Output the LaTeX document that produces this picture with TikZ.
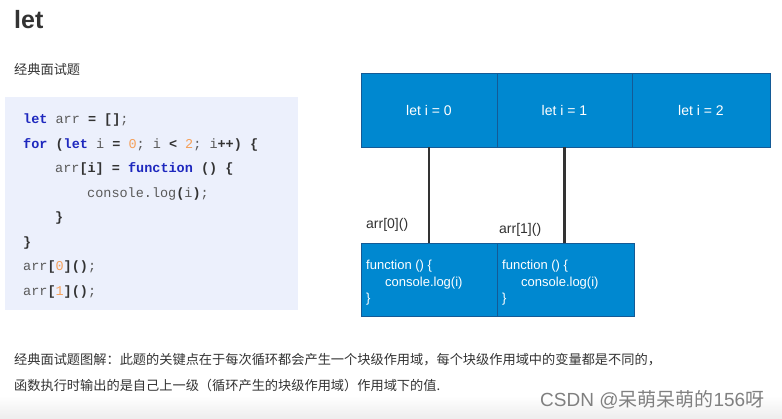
\documentclass[tikz,border=0pt]{standalone}
\usepackage{fontspec}
\setmainfont{Liberation Sans}
\newfontfamily\cjk{Noto Sans CJK SC}
\newfontfamily\codefont{Liberation Mono}
\definecolor{boxblue}{RGB}{0,136,208}
\definecolor{boxedge}{RGB}{20,90,150}
\definecolor{codebg}{RGB}{236,240,252}
\definecolor{kwblue}{RGB}{30,40,190}
\definecolor{numorange}{RGB}{245,160,90}
\definecolor{codetext}{RGB}{90,90,90}
\definecolor{darktext}{RGB}{51,51,51}
\newcommand{\kw}[1]{\textcolor{kwblue}{\bfseries #1}}
\newcommand{\nm}[1]{\textcolor{numorange}{#1}}
\newcommand{\op}[1]{\textcolor{darktext}{\bfseries #1}}
\tikzset{
  codeline/.style={anchor=base west, inner sep=0pt, font=\codefont\fontsize{13.5}{13.5}\selectfont, text=codetext},
  scopebox/.style={draw=boxedge, line width=0.5pt, fill=boxblue, text=white, minimum height=74pt, inner sep=0pt, font=\fontsize{14}{14}\selectfont},
  fnbox/.style={draw=boxedge, line width=0.5pt, fill=boxblue, minimum height=73pt, inner sep=0pt},
  fntext/.style={anchor=base west, inner sep=0pt, align=left, text=white, font=\fontsize{13}{16.5}\selectfont},
  label/.style={anchor=base west, inner sep=0pt, text=darktext, font=\fontsize{14}{14}\selectfont},
  link/.style={draw=darktext, line width=2.3pt},
  cjktext/.style={anchor=base west, inner sep=0pt, text=darktext, font=\cjk\fontsize{13.2}{26}\selectfont}
}
\begin{document}
\begin{tikzpicture}[x=1pt,y=-1pt]
\useasboundingbox (0,0) rectangle (782,419);
\fill[white] (0,0) rectangle (782,419);
\shade[top color=white, bottom color=black!7] (0,396) rectangle (782,419);
% title
\node[anchor=base west, inner sep=0pt, text=darktext, font=\bfseries\fontsize{25}{25}\selectfont] (title) at (14,29) {let};
\node[cjktext] (sub) at (14,75) {经典面试题};
% code box
\fill[codebg] (5,97) rectangle (298,310);
\node[codeline] (c1) at (23,124) {\kw{let} arr \op{=} \op{[]};};
\node[codeline] (c2) at (23,148.5) {\kw{for} \op{(}\kw{let} i \op{=} \nm{0}; i \op{<} \nm{2}; i\op{++}\op{)} \op{\{}};
\node[codeline] (c3) at (55,173) {arr\op{[i]} \op{=} \kw{function} \op{()} \op{\{}};
\node[codeline] (c4) at (87,197.5) {console.log\op{(}i\op{)};};
\node[codeline] (c5) at (55,222) {\op{\}}};
\node[codeline] (c6) at (23,246.5) {\op{\}}};
\node[codeline] (c7) at (23,271) {arr\op{[}\nm{0}\op{]()};};
\node[codeline] (c8) at (23,295.5) {arr\op{[}\nm{1}\op{]()};};
% top scope boxes
\node[scopebox, minimum width=136pt] (t0) at (429,110) {let i = 0};
\node[scopebox, minimum width=135pt] (t1) at (564.5,110) {let i = 1};
\node[scopebox, minimum width=138pt] (t2) at (701,110) {let i = 2};
% bottom function boxes
\node[fnbox, minimum width=136pt] (b0) at (429,279.5) {};
\node[fnbox, minimum width=137pt] (b1) at (565.5,279.5) {};
\node[fntext] (f0) at (366,303) {function () \{\\\hspace*{19pt}console.log(i)\\\}};
\node[fntext] (f1) at (502,303) {function () \{\\\hspace*{19pt}console.log(i)\\\}};
% connectors
\draw[link] (t0.south) -- (t0.south |- b0.north);
\draw[link] (t1.south) -- (t1.south |- b1.north);
% labels
\node[label] (l0) at (366,229) {arr[0]()};
\node[label] (l1) at (499,234) {arr[1]()};
% explanation
\node[cjktext] (e1) at (14,365) {经典面试题图解：此题的关键点在于每次循环都会产生一个块级作用域，每个块级作用域中的变量都是不同的，};
\node[cjktext] (e2) at (14,391) {函数执行时输出的是自己上一级（循环产生的块级作用域）作用域下的值.};
% watermark
\node[anchor=base west, inner sep=0pt, text=black!50, font=\fontsize{19}{19}\selectfont] (wm) at (540,407) {CSDN @{\cjk 呆萌呆萌的}156{\cjk 呀}};
\end{tikzpicture}
\end{document}
